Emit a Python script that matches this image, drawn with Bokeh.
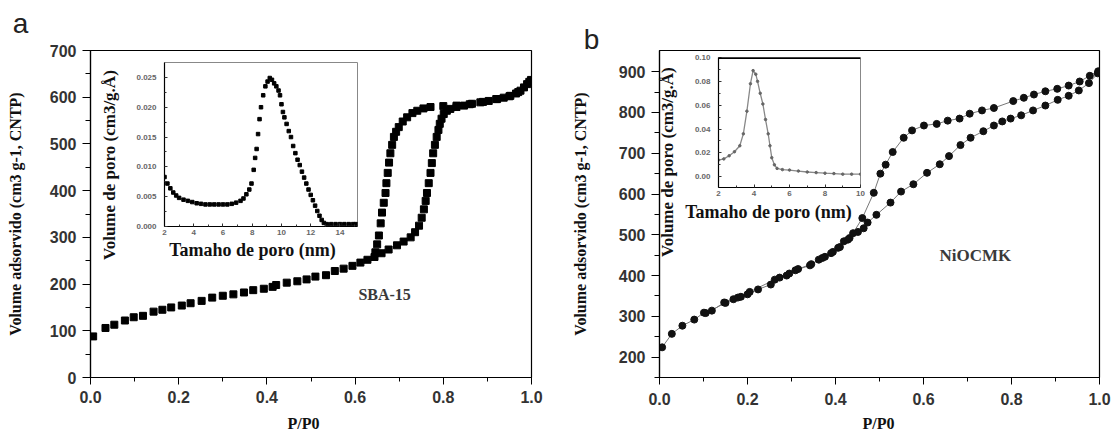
import math
from bokeh.plotting import figure
from bokeh.models import Range1d, Label, Span, NumeralTickFormatter, FixedTicker
from bokeh.layouts import row, column
from bokeh.embed import file_html
from bokeh.resources import INLINE

# ---------------- data: panel a (SBA-15) ----------------
a_ads_p = [0.006, 0.034, 0.054, 0.078, 0.098, 0.119, 0.143, 0.163, 0.183, 0.207, 0.227, 0.252, 0.276,
           0.300, 0.324, 0.348, 0.369, 0.393, 0.413, 0.421, 0.445, 0.469, 0.490, 0.510, 0.534, 0.554,
           0.574, 0.594, 0.612, 0.628, 0.644, 0.660, 0.676, 0.695, 0.710, 0.726, 0.736, 0.745, 0.751,
           0.756, 0.760, 0.763, 0.767, 0.771, 0.774, 0.777, 0.781, 0.785, 0.789, 0.792, 0.796, 0.801,
           0.808, 0.816, 0.830, 0.847, 0.865, 0.884, 0.903, 0.922, 0.937, 0.952, 0.965, 0.975, 0.983,
           0.990, 0.995, 0.999]
a_ads_v = [88, 106, 113, 122, 129, 132, 141, 145, 150, 154, 159, 164, 171,
           175, 178, 182, 187, 190, 194, 198, 203, 206, 210, 216, 219, 228,
           233, 239, 246, 252, 258, 266, 274, 283, 291, 300, 311, 325, 342,
           360, 378, 395, 416, 438, 459, 480, 498, 515, 530, 543, 554, 564,
           571, 575, 579, 582, 586, 589, 592, 596, 599, 603, 608, 614, 621,
           628, 633, 637]
a_des_p = [0.970, 0.950, 0.920, 0.890, 0.860, 0.830, 0.800, 0.771, 0.755, 0.741, 0.730, 0.718, 0.708,
           0.699, 0.693, 0.688, 0.684, 0.680, 0.677, 0.674, 0.671, 0.669, 0.665, 0.661, 0.658, 0.654,
           0.650, 0.646]
a_des_v = [611, 602, 596, 590, 585, 582, 581, 579, 576, 571, 566, 557, 548,
           536, 526, 515, 498, 480, 460, 438, 416, 395, 374, 353, 330, 304,
           285, 268]

# inset a: pore size distribution
ia_x = [2.0, 2.2, 2.4, 2.6, 2.8, 3.0, 3.3, 3.6, 3.9, 4.2, 4.5, 4.8, 5.1, 5.4, 5.7, 6.0, 6.3, 6.6,
        6.9, 7.2, 7.4, 7.6, 7.8, 7.95, 8.1, 8.2, 8.3, 8.4, 8.5, 8.6, 8.75, 8.9, 9.05, 9.2, 9.35,
        9.5, 9.65, 9.8, 9.9, 10.0, 10.1, 10.2, 10.35, 10.5, 10.65, 10.8, 10.95, 11.1, 11.25, 11.4,
        11.55, 11.7, 11.85, 12.0, 12.15, 12.3, 12.45, 12.6, 12.75, 12.9, 13.1, 13.4, 13.7, 14.0,
        14.3, 14.6, 14.9, 15.1]
ia_y = [0.0083, 0.0072, 0.0064, 0.0057, 0.0052, 0.0048, 0.0045, 0.0043, 0.0041, 0.0039, 0.0038,
        0.0037, 0.0037, 0.0037, 0.0037, 0.0037, 0.0037, 0.0038, 0.0040, 0.0043, 0.0047, 0.0054,
        0.0062, 0.0072, 0.0095, 0.0115, 0.0130, 0.0155, 0.0180, 0.0200, 0.0220, 0.0235, 0.0243,
        0.0249, 0.0246, 0.0240, 0.0235, 0.0228, 0.0220, 0.0205, 0.0192, 0.0183, 0.0172, 0.0160,
        0.0150, 0.0135, 0.0123, 0.0112, 0.0103, 0.0092, 0.0082, 0.0072, 0.0062, 0.0053, 0.0044,
        0.0035, 0.0026, 0.0018, 0.0011, 0.0006, 0.0004, 0.0004, 0.0004, 0.0004, 0.0004, 0.0004,
        0.0004, 0.0004]

# ---------------- data: panel b (NiOCMK) ----------------
b_ads_p = [0.006, 0.028, 0.052, 0.079, 0.101, 0.119, 0.147, 0.168, 0.178, 0.200, 0.224, 0.253, 0.273,
           0.289, 0.309, 0.342, 0.362, 0.376, 0.394, 0.406, 0.419, 0.432, 0.451, 0.464, 0.473, 0.493,
           0.525, 0.549, 0.577, 0.608, 0.637, 0.658, 0.684, 0.707, 0.736, 0.760, 0.779, 0.798, 0.822,
           0.849, 0.877, 0.905, 0.930, 0.953, 0.976, 0.996]
b_ads_v = [224, 257, 277, 292, 309, 314, 334, 342, 346, 354, 366, 378, 395,
           400, 413, 425, 439, 446, 458, 468, 484, 492, 507, 516, 530, 549,
           579, 606, 624, 652, 673, 693, 720, 738, 754, 768, 778, 785, 793,
           805, 817, 831, 841, 854, 872, 896]
b_des_p = [0.997, 0.978, 0.955, 0.930, 0.904, 0.877, 0.851, 0.828, 0.804, 0.760, 0.733, 0.705, 0.682,
           0.655, 0.630, 0.601, 0.574, 0.555, 0.530, 0.514, 0.502, 0.487, 0.461, 0.440, 0.428, 0.410,
           0.390, 0.370, 0.345, 0.315, 0.295, 0.262, 0.205, 0.185, 0.150, 0.105]
b_des_v = [901, 890, 876, 866, 858, 852, 844, 836, 828, 811, 805, 797, 785,
           780, 772, 768, 756, 738, 703, 672, 650, 603, 541, 504, 488, 470,
           455, 443, 428, 416, 405, 390, 360, 348, 333, 308]

# inset b
ib_x = [2.0, 2.3, 2.6, 2.9, 3.2, 3.4, 3.6, 3.8, 3.95, 4.1, 4.2, 4.35, 4.5, 4.65, 4.8, 4.9, 5.0, 5.15,
        5.3, 5.6, 6.0, 6.5, 7.0, 7.5, 8.0, 8.5, 9.0, 9.5, 10.0]
ib_y = [0.014, 0.015, 0.0176, 0.021, 0.026, 0.036, 0.055, 0.078, 0.089, 0.086, 0.080, 0.070, 0.061,
        0.048, 0.036, 0.026, 0.016, 0.010, 0.007, 0.006, 0.0056, 0.0048, 0.004, 0.0035, 0.003,
        0.0027, 0.0022, 0.0022, 0.0022]

main_x_ticks = [0.0, 0.2, 0.4, 0.6, 0.8, 1.0]
main_x_minor = [0.1, 0.3, 0.5, 0.7, 0.9]
a_y_ticks = [0, 100, 200, 300, 400, 500, 600, 700]
a_y_minor = [50, 150, 250, 350, 450, 550, 650]
b_y_ticks = [200, 300, 400, 500, 600, 700, 800, 900]
b_y_minor = [150, 250, 350, 450, 550, 650, 750, 850]
ia_x_ticks = [2, 4, 6, 8, 10, 12, 14]
ia_x_minor = [3, 5, 7, 9, 11, 13, 15]
ia_y_ticks = [0.0, 0.005, 0.010, 0.015, 0.020, 0.025]
ia_y_minor = [0.0025, 0.0075, 0.0125, 0.0175, 0.0225]
ib_x_ticks = [2, 4, 6, 8, 10]
ib_x_minor = [3, 5, 7, 9]
ib_y_ticks = [0.0, 0.02, 0.04, 0.06, 0.08, 0.10]
ib_y_minor = [0.01, 0.03, 0.05, 0.07, 0.09]

Y_TITLE = "Volume adsorvido (cm3 g-1, CNTP)"
X_TITLE = "P/P0"
INSET_Y = "Volume de poro (cm3/g.Å)"
INSET_X = "Tamaho de poro (nm)"

SANS = "Liberation Sans"
SERIF = "Liberation Serif"


def style_main(p, xt, xm, yt, ym):
    p.xgrid.visible = False
    p.ygrid.visible = False
    p.outline_line_color = "black"
    p.outline_line_width = 1.2
    p.xaxis.ticker = FixedTicker(ticks=xt, minor_ticks=xm)
    p.yaxis.ticker = FixedTicker(ticks=yt, minor_ticks=ym)
    p.xaxis.formatter = NumeralTickFormatter(format="0.0")
    for ax in (p.xaxis[0], p.yaxis[0]):
        ax.axis_line_color = "black"
        ax.axis_line_width = 1.2
        ax.major_tick_line_color = "black"
        ax.minor_tick_line_color = "black"
        ax.major_tick_in = 0
        ax.minor_tick_in = 0
        ax.major_label_text_font = SANS
        ax.major_label_text_font_style = "bold"
        ax.major_label_text_font_size = "16px"
        ax.major_label_text_color = "#333333"
        ax.axis_label_text_font = SERIF
        ax.axis_label_text_font_style = "bold"
        ax.axis_label_text_font_size = "16px"
        ax.axis_label_text_color = "#111111"
    p.xaxis.major_tick_out = 7
    p.xaxis.minor_tick_out = 4
    p.yaxis.major_tick_out = 8
    p.yaxis.minor_tick_out = 5
    p.yaxis.major_label_standoff = 6
    p.yaxis.axis_label = Y_TITLE


def style_inset(p, xt, xm, yt, ym, yfmt):
    p.xgrid.visible = False
    p.ygrid.visible = False
    p.background_fill_color = None
    p.border_fill_color = None
    p.outline_line_color = "#888888"
    p.outline_line_width = 1
    p.xaxis.ticker = FixedTicker(ticks=xt, minor_ticks=xm)
    p.yaxis.ticker = FixedTicker(ticks=yt, minor_ticks=ym)
    p.yaxis.formatter = NumeralTickFormatter(format=yfmt)
    for ax in (p.xaxis[0], p.yaxis[0]):
        ax.axis_line_color = "black"
        ax.axis_line_width = 1.2
        ax.major_tick_line_color = "#333333"
        ax.minor_tick_line_color = "#333333"
        ax.major_tick_in = 3
        ax.major_tick_out = 0
        ax.minor_tick_in = 2
        ax.minor_tick_out = 0
        ax.major_label_text_font = SANS
        ax.major_label_text_font_style = "bold"
        ax.major_label_text_font_size = "8px"
        ax.major_label_text_color = "#666666"
    p.yaxis.major_label_standoff = 8
    p.xaxis.major_label_standoff = 3


# ---------------- panel a ----------------
pa = figure(width=566, height=432, x_range=Range1d(0, 1), y_range=Range1d(0, 700),
            toolbar_location=None, output_backend="svg",
            min_border_left=90, min_border_right=35, min_border_top=46, min_border_bottom=55)
style_main(pa, main_x_ticks, main_x_minor, a_y_ticks, a_y_minor)
pa.xaxis.major_label_standoff = 6
pa.yaxis.axis_label_standoff = 23
pa.scatter(a_ads_p, a_ads_v, marker="square", size=7, color="black")
pa.scatter(a_des_p, a_des_v, marker="square", size=7, color="black")
pa.add_layout(Label(x=0.667, y=178, text="SBA-15", text_font=SERIF, text_font_style="bold",
                    text_font_size="16px", text_color="#3a3a3a", text_align="center",
                    text_baseline="middle"))

# ---------------- panel b ----------------
pb = figure(width=545, height=432, x_range=Range1d(0, 1), y_range=Range1d(150, 952),
            toolbar_location=None, output_backend="svg",
            min_border_left=93, min_border_right=12, min_border_top=50, min_border_bottom=53)
style_main(pb, main_x_ticks, main_x_minor, b_y_ticks, b_y_minor)
pb.xaxis.major_label_standoff = 8
pb.yaxis.axis_label_standoff = 27
pb.line(b_ads_p, b_ads_v, color="#777777", line_width=1)
pb.line(b_des_p, b_des_v, color="#777777", line_width=1)
pb.scatter(b_ads_p, b_ads_v, marker="circle", size=7, color="#111111")
pb.scatter(b_des_p, b_des_v, marker="circle", size=7, color="#111111")
pb.add_layout(Label(x=0.718, y=449, text="NiOCMK", text_font=SERIF, text_font_style="bold",
                    text_font_size="17px", text_color="#3a3a3a", text_align="center",
                    text_baseline="middle"))

# ---------------- inset a ----------------
ia = figure(width=239, height=191, x_range=Range1d(2, 15.2), y_range=Range1d(0, 0.0275),
            toolbar_location=None, output_backend="svg",
            min_border_left=40, min_border_right=6, min_border_top=5, min_border_bottom=22,
            styles={"position": "absolute", "left": "124px", "top": "57px", "z-index": "2"})
style_inset(ia, ia_x_ticks, ia_x_minor, ia_y_ticks, ia_y_minor, "0.000")
ia.scatter(ia_x, ia_y, marker="square", size=3.5, color="black")

# ---------------- inset b ----------------
ib = figure(width=188, height=157, x_range=Range1d(2, 10), y_range=Range1d(-0.009, 0.10),
            toolbar_location=None, output_backend="svg",
            min_border_left=35, min_border_right=6, min_border_top=5, min_border_bottom=22,
            styles={"position": "absolute", "left": "678px", "top": "52px", "z-index": "2"})
style_inset(ib, ib_x_ticks, ib_x_minor, ib_y_ticks, ib_y_minor, "0.00")
ib.line(ib_x, ib_y, color="#888888", line_width=1.3)
ib.scatter(ib_x, ib_y, marker="circle", size=2.5, color="#666666")
ib.add_layout(Span(location=0.10, dimension="width", line_color="black", line_width=3))

# ---------------- text overlay (page pixel coordinates) ----------------
# the overlay's frame starts 40 px in from its own left edge, so the element is shifted 40 px left
ov = figure(frame_width=1100, frame_height=433, x_range=Range1d(0, 1100), y_range=Range1d(433, 0),
            toolbar_location=None, output_backend="svg", x_axis_location=None,
            y_axis_location=None, min_border_left=0, min_border_right=0, min_border_top=0,
            min_border_bottom=0,
            styles={"position": "absolute", "left": "-40px", "top": "0px", "z-index": "3"})
ov.xgrid.visible = False
ov.ygrid.visible = False
ov.background_fill_color = None
ov.border_fill_color = None
ov.outline_line_color = None


def ov_text(x, y, text, font, size, style="bold", color="#111111", angle=0.0, baseline="middle"):
    ov.add_layout(Label(x=x, y=y, text=text, text_font=font, text_font_style=style,
                        text_font_size=size, text_color=color, text_align="center",
                        text_baseline=baseline, angle=angle))


ov_text(20, 23, "a", SANS, "28px", style="normal", color="#222222", baseline="alphabetic")
ov_text(591, 39, "b", SANS, "28px", style="normal", color="#222222", baseline="alphabetic")
ov_text(303, 424, X_TITLE, SERIF, "16px")
ov_text(878, 424, X_TITLE, SERIF, "16px")
ov_text(109, 165, INSET_Y, SERIF, "17px", angle=math.pi / 2)
ov_text(252, 250, INSET_X, SERIF, "18px")
ov_text(667, 162, INSET_Y, SERIF, "17px", angle=math.pi / 2)
ov_text(768, 212, INSET_X, SERIF, "18px")

layout = column(row(pa, pb), ia, ib, ov)
open("out.html", "w").write(file_html(layout, INLINE))
